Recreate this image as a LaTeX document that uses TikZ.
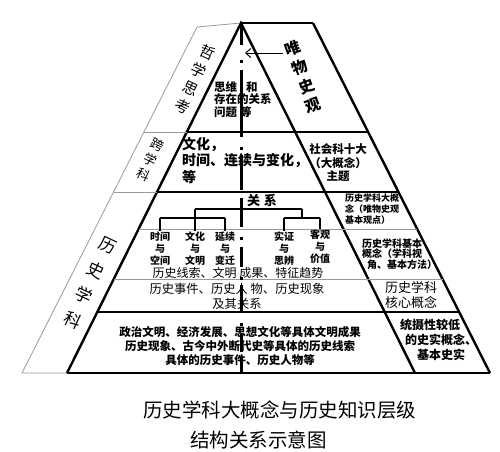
\documentclass[tikz,border=0pt]{standalone}
\usepackage{fontspec}
\setmainfont{Noto Sans CJK SC}
\usetikzlibrary{arrows.meta}
\newcommand{\fsz}[2]{\fontsize{#1}{#2}\selectfont}
\begin{document}
\begin{tikzpicture}[x=1pt,y=-1pt,
 edge/.style ={draw=black, line width=2.4pt},
 layer/.style ={draw=black, line width=2.2pt},
 faint/.style ={draw=black!40, line width=0.8pt},
 axis/.style ={draw=black, line width=3pt},
 branch/.style ={draw=black, line width=1.6pt},
 lside/.style ={inner sep=0pt, align=center, rotate=-25},
 rside/.style ={inner sep=0pt, align=center, rotate=20, font=\bfseries\fsz{15.5}{20}},
 txt/.style ={inner sep=0pt, align=center},
 leaf/.style ={inner sep=1pt, align=center, anchor=north, font=\bfseries\fsz{10}{12}}]

\useasboundingbox (0,0) rectangle (500,451);

% outline
\draw[faint] (197,27) -- (241,23);
\draw[faint] (197,27) -- (22,373) -- (67,373);
\draw[edge] (67,373) -- (241,23) -- (415,373);
\draw[line width=1.6pt] (241,23) -- (313,23);
\draw[edge] (313,23) -- (490,373);
\draw[edge] (67,373) -- (490,373);

% layers
\draw[faint] (143.9,132) -- (186.8,132);
\draw[layer] (186.8,132) -- (368.1,132);
\draw[faint] (113.5,192) -- (157,192);
\draw[layer] (157,192) -- (398.5,192);
\draw[faint] (138.6,229) -- (417.2,229);
\draw[faint] (113.7,279) -- (442.5,279);
\draw[layer] (97.3,312) -- (459.2,312);

% side labels
\draw (195,79) node[lside, font=\fsz{15}{19.9}] (philo) {哲\\学\\思\\考};
\draw (150,160) node[lside, font=\fsz{13}{16.5}] (kua) {跨\\学\\科};
\draw (90,283) node[lside, font=\fsz{17}{27.6}] (hist) {历\\史\\学\\科};
\draw (303,77) node[rside] (weiwu) {唯\\物\\史\\观};

% inside the pyramid
\draw (214,81) node[txt, anchor=north west, align=left, font=\bfseries\fsz{11.5}{12.5}] (think)
  {思维\hspace{9pt}和\\存在的关系\\问题\hspace{3pt}等};
\draw (182,137) node[txt, anchor=north west, align=left, font=\bfseries\fsz{14}{16.5}] (cross)
  {文化，\\时间、连续与变化，\\等};
\draw (262,200) node[txt, font=\bfseries\fsz{13}{13}] (rel) {关\hspace{4pt}系};

\draw (160,231) node[leaf] (c1) {时间\\与\\空间};
\draw (195,231) node[leaf] (c2) {文化\\与\\文明};
\draw (225,231) node[leaf] (c3) {延续\\与\\变迁};
\draw (284,231) node[leaf] (c4) {实证\\与\\思辨};
\draw (320,229) node[leaf] (c5) {客观\\与\\价值};

\coordinate (topL) at (195,209);
\coordinate (topR) at (302,209);
\coordinate (midR) at (302,218);
\coordinate (b1) at (160,218);
\coordinate (b3) at (225,218);
\coordinate (b4) at (284,218);
\coordinate (b5) at (320,218);
\draw[branch] (topL) -- (topR);
\draw[branch] (topL) -- (c2.north);
\draw[branch] (topR) -- (midR);
\draw[branch] (b1) -- (b3);
\draw[branch] (b4) -- (b5);
\draw[branch] (b1) -- (c1.north);
\draw[branch] (b3) -- (c3.north);
\draw[branch] (b4) -- (c4.north);
\draw[branch] (b5) -- (c5.north);

\draw (238,273) node[txt, font=\fsz{12}{12}] (trace) {历史线索、文明 成果、特征趋势};
\draw (237,296) node[txt, font=\fsz{12.3}{15}] (event) {历史事件、历史人 物、历史现象\\及其关系};
\draw (240,346) node[txt, font=\bfseries\fsz{11.5}{14.3}] (fact)
  {政治文明、经济发展、思想文化等具体文明成果\\历史现象、古今中外断代史等具体的历史线索\\具体的历史事件、历史人物等};

% axis
\foreach \a/\b in {23/45, 70/137, 155/190, 198/227, 247/267, 285/313, 333/352, 358/373}
  \draw[axis] (241,\a) -- (241,\b);
\foreach \d in {60, 147, 237, 277, 323}
  \draw[axis] (241,\d) -- (241,\d+3);

\coordinate (tail) at (283,53);
\coordinate (tip) at (245,53);
\draw[line width=1pt, -{Straight Barb[length=5pt,width=9pt]}] (tail) -- (tip);

% right column
\draw (338,163) node[txt, font=\bfseries\fsz{11.5}{13.5}] (ten) {社会科十大\\（大概念）\\主题};
\draw (345,209) node[txt, anchor=west, align=left, font=\bfseries\fsz{9}{11}] (big)
  {历史学科大概\\念（唯物史观\\基本观点）};
\draw (362,254) node[txt, anchor=west, align=left, font=\bfseries\fsz{10}{10.8}] (basic)
  {历史学科基本\\概念（学科视\\\hspace*{5pt}角、基本方法）};
\draw (411,295) node[txt, font=\fsz{13}{14.5}] (core) {历史学科\\核心概念};
\draw (400,340) node[txt, anchor=west, align=left, font=\bfseries\fsz{12}{15}] (low)
  {统摄性较低\\\hspace*{5pt}的史实概念、\\\hspace*{17pt}基本史实};

% caption
\draw (143,410) node[txt, anchor=west, font=\fsz{19.5}{19.5}] (cap1) {历史学科大概念与历史知识层级};
\draw (190,440) node[txt, anchor=west, font=\fsz{19.5}{19.5}] (cap2) {结构关系示意图};

\end{tikzpicture}
\end{document}
